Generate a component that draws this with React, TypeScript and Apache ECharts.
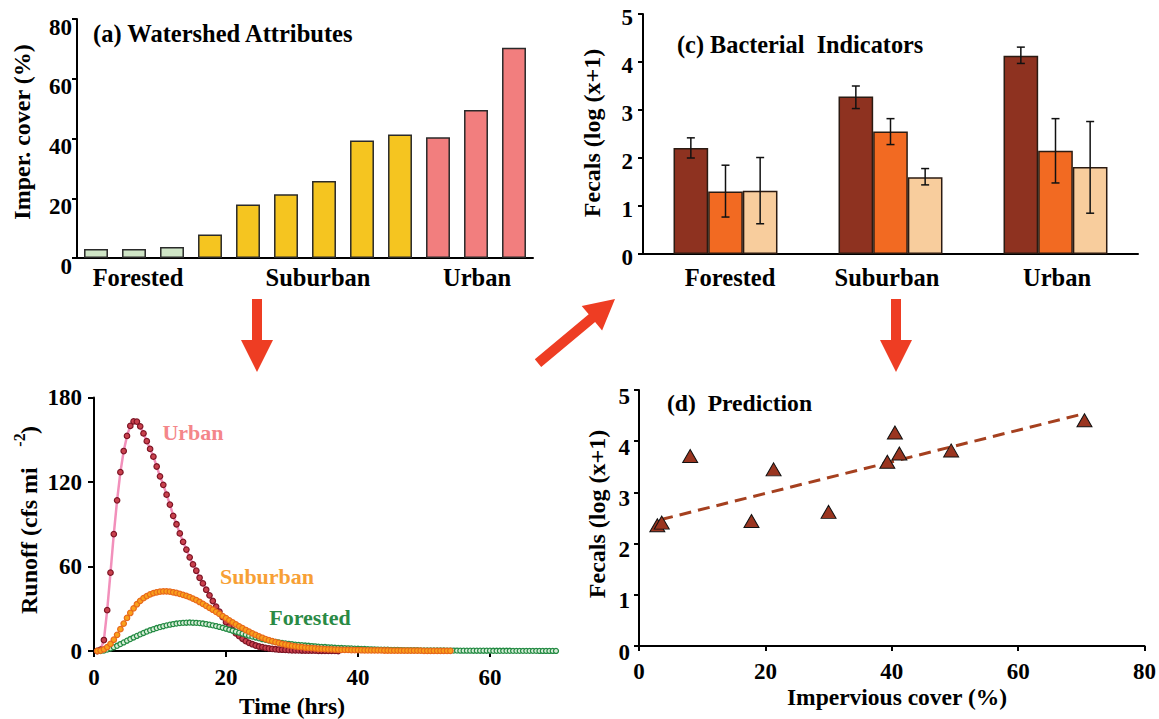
import React, { useEffect, useRef } from "react";
import * as echarts from "echarts";

const SERIF = "'Liberation Serif', 'Times New Roman', Times, serif";

// ---------- (a) Watershed attributes ----------
const WATERSHED_IDS = ["F1", "F2", "F3", "S1", "S2", "S3", "S4", "S5", "S6", "U1", "U2", "U3"];
const WATERSHED_CLASS = ["Forested", "Forested", "Forested", "Suburban", "Suburban", "Suburban", "Suburban", "Suburban", "Suburban", "Urban", "Urban", "Urban"];
const IMPERVIOUS_COVER = [3.0, 3.0, 3.7, 7.9, 17.9, 21.3, 25.8, 39.3, 41.3, 40.4, 49.5, 70.4];
const LAND_USE = ["Forested", "Suburban", "Urban"];

// ---------- (c) Bacterial indicators ----------
const INDICATOR_NAMES = ["Indicator 1", "Indicator 2", "Indicator 3"];
const IND1_MEAN = [2.21, 3.28, 4.13];
const IND1_LOW = [2.0, 3.03, 3.97];
const IND1_HIGH = [2.42, 3.5, 4.31];
const IND2_MEAN = [1.3, 2.55, 2.15];
const IND2_LOW = [0.77, 2.28, 1.48];
const IND2_HIGH = [1.85, 2.82, 2.82];
const IND3_MEAN = [1.32, 1.6, 1.81];
const IND3_LOW = [0.63, 1.44, 0.85];
const IND3_HIGH = [2.01, 1.78, 2.76];

// ---------- (b) Runoff hydrographs (0.5 h sampling) ----------
const HYDRO_STEP_HRS = 0.5;
const URBAN_START_HRS = 0.5;
const SUBURBAN_START_HRS = 0.5;
const FORESTED_START_HRS = 1.0;
const URBAN_RUNOFF = [
  0, 1, 7.8, 29, 55.6, 83, 107, 127, 142, 152.7, 159.8, 163, 162.8, 159.5, 154.5, 149, 143.5, 138, 131, 124,
  118, 111, 104, 96, 90, 83.5, 77.5, 72, 66.5, 61.5, 57, 52, 48, 43.5, 39.5, 35.5, 31.5, 28, 24, 20.5,
  17.5, 15, 12.5, 10.5, 8.7, 7, 5.8, 4.8, 3.9, 3.2, 2.7, 2.2, 1.8, 1.5, 1.25, 1.05, 0.9, 0.75, 0.6, 0.5,
  0.45, 0.4, 0.35, 0.3, 0.25, 0.2, 0.2, 0.15, 0.15, 0.1, 0.1, 0.05, 0.05, 0,
];
const SUBURBAN_RUNOFF = [
  0, 0.3, 1.2, 2.8, 5, 8, 11.5, 15.5, 19.5, 23.5, 27, 30.3, 33.2, 35.6, 37.5, 39, 40.2, 41.1, 41.7, 42.1,
  42.3, 42.3, 42.1, 41.7, 41.2, 40.6, 39.9, 39.1, 38.2, 37.2, 36.1, 34.8, 33.5, 32.1, 30.7, 29.3, 27.8, 26.3, 24.8, 23.3,
  21.8, 20.3, 18.9, 17.5, 16.2, 14.9, 13.7, 12.5, 11.4, 10.4, 9.4, 8.5, 7.7, 7.0, 6.3, 5.7, 5.1, 4.6, 4.1, 3.7,
  3.3, 3.0, 2.7, 2.4, 2.2, 2.0, 1.8, 1.6, 1.45, 1.3, 1.2, 1.1, 1.0, 0.9, 0.85, 0.8, 0.75, 0.7, 0.65, 0.6,
  0.55, 0.5, 0.5, 0.45, 0.45, 0.4, 0.4, 0.35, 0.35, 0.3, 0.3, 0.3, 0.25, 0.25, 0.25, 0.2, 0.2, 0.2, 0.2, 0.15,
  0.15, 0.15, 0.15, 0.1, 0.1, 0.1, 0.1, 0.1,
];
const FORESTED_RUNOFF = [
  0, 0.3, 1.0, 1.8, 2.7, 3.7, 4.9, 6.1, 7.3, 8.5, 9.6, 10.7, 11.8, 12.8, 13.8, 14.7, 15.5, 16.3, 17.0, 17.6,
  18.2, 18.7, 19.1, 19.5, 19.8, 20.0, 20.1, 20.2, 20.1, 20.0, 19.8, 19.5, 19.1, 18.7, 18.2, 17.7, 17.1, 16.5, 15.8, 15.1,
  14.4, 13.7, 13.0, 12.3, 11.6, 10.9, 10.2, 9.6, 9.0, 8.4, 7.9, 7.4, 6.9, 6.5, 6.1, 5.7, 5.4, 5.1, 4.8, 4.5,
  4.3, 4.1, 3.9, 3.7, 3.5, 3.3, 3.1, 2.9, 2.8, 2.6, 2.5, 2.3, 2.2, 2.1, 2.0, 1.9, 1.8, 1.7, 1.6, 1.5,
  1.4, 1.3, 1.2, 1.1, 1.0, 0.95, 0.9, 0.85, 0.8, 0.75, 0.7, 0.65, 0.6, 0.6, 0.55, 0.5, 0.5, 0.45, 0.45, 0.4,
  0.4, 0.4, 0.35, 0.35, 0.35, 0.3, 0.3, 0.3, 0.3, 0.25, 0.25, 0.25, 0.25, 0.2, 0.2, 0.2, 0.2, 0.2, 0.2, 0.15,
  0.15, 0.15, 0.15, 0.15, 0.15, 0.1, 0.1, 0.1, 0.1, 0.1, 0.1, 0.1, 0.1, 0.05, 0.05, 0.05, 0.05, 0.05, 0.05,
];

// ---------- (d) Prediction ----------
const PRED_IMPERVIOUS = [2.9, 3.6, 8.1, 17.8, 21.3, 30.0, 39.3, 40.5, 41.2, 49.4, 70.5];
const PRED_FECALS = [2.36, 2.41, 3.71, 2.44, 3.45, 2.62, 3.6, 4.17, 3.76, 3.82, 4.41];
const TREND_X = [3.5, 70.5];
const TREND_Y = [2.47, 4.54];

const CLASS_COLORS: Record<string, string> = {
  Forested: "#cfe5c6",
  Suburban: "#f5c520",
  Urban: "#f27e7e",
};
const IND_COLORS = ["#8e3220", "#f26a22", "#f8cd9d"];
const ARROW_COLOR = "#ee3d23";
const BAR_GAP_FRAC = 0.37;

const toSeries = (start: number, vals: number[]) =>
  vals.map((v, i) => [start + i * HYDRO_STEP_HRS, v]);

const font = (size: number) => `bold ${size}px ${SERIF}`;

const txt = (x: number, y: number, text: string, size: number, opts: any = {}) => ({
  type: "text",
  x,
  y,
  rotation: opts.rotation || 0,
  style: {
    text,
    font: font(size),
    fill: opts.fill || "#000",
    textAlign: opts.align || "left",
    textVerticalAlign: "middle",
    align: opts.align || "left",
    verticalAlign: "middle",
  },
  z: 100,
});

const axisLine = { show: true, lineStyle: { color: "#000", width: 2 } };
const labelStyle = (extra: any = {}) => ({
  color: "#000",
  fontFamily: SERIF,
  fontWeight: 700,
  fontStyle: "normal",
  fontSize: 23,
  ...extra,
});

export default function App() {
  const ref = useRef<HTMLDivElement>(null);

  useEffect(() => {
    if (!ref.current) return;
    const chart = echarts.init(ref.current, undefined, { renderer: "svg" });

    const means = [IND1_MEAN, IND2_MEAN, IND3_MEAN];
    const lows = [IND1_LOW, IND2_LOW, IND3_LOW];
    const highs = [IND1_HIGH, IND2_HIGH, IND3_HIGH];
    const errData: number[][] = [];
    for (let s = 0; s < 3; s++) {
      for (let j = 0; j < LAND_USE.length; j++) {
        errData.push([j, lows[s][j], highs[s][j], s]);
      }
    }

    const option: any = {
      animation: false,
      backgroundColor: "#fff",
      textStyle: { fontFamily: SERIF, fontWeight: "bold" },
      grid: [
        { left: 77, top: 19, width: 456, height: 239 },
        { left: 643, top: 14, width: 495, height: 240 },
        { left: 94, top: 397.5, width: 462, height: 253.5 },
        { left: 639, top: 390, width: 510, height: 256 },
      ],
      xAxis: [
        {
          gridIndex: 0,
          type: "category",
          data: WATERSHED_IDS,
          axisLine,
          axisTick: { show: false },
          axisLabel: { show: false },
        },
        {
          gridIndex: 1,
          type: "category",
          data: LAND_USE,
          axisLine,
          axisTick: { show: false },
          axisLabel: { show: false },
        },
        {
          gridIndex: 2,
          type: "value",
          min: 0,
          max: 70,
          interval: 20,
          axisLine,
          axisTick: { show: true, length: 6, lineStyle: { color: "#000", width: 2 } },
          splitLine: { show: false },
          axisLabel: labelStyle({ margin: 15, showMaxLabel: false }),
        },
        {
          gridIndex: 3,
          type: "value",
          min: 0,
          max: 80,
          interval: 20,
          axisLine,
          axisTick: { show: true, length: 5, lineStyle: { color: "#000", width: 2 } },
          splitLine: { show: false },
          axisLabel: labelStyle({ margin: 14 }),
        },
      ],
      yAxis: [
        {
          gridIndex: 0,
          type: "value",
          min: 0,
          max: 80,
          interval: 20,
          axisLine,
          axisTick: { show: true, length: 5, lineStyle: { color: "#000", width: 2 } },
          splitLine: { show: false },
          axisLabel: labelStyle({ margin: 5, verticalAlign: "top", lineHeight: 16 }),
        },
        {
          gridIndex: 1,
          type: "value",
          min: 0,
          max: 5,
          interval: 1,
          axisLine,
          axisTick: { show: true, length: 5, lineStyle: { color: "#000", width: 2 } },
          splitLine: { show: false },
          axisLabel: labelStyle({ margin: 10, verticalAlign: "top", lineHeight: 7 }),
        },
        {
          gridIndex: 2,
          type: "value",
          min: 0,
          max: 180,
          interval: 60,
          axisLine,
          axisTick: { show: true, length: 6, lineStyle: { color: "#000", width: 2 } },
          splitLine: { show: false },
          axisLabel: labelStyle({ margin: 12 }),
        },
        {
          gridIndex: 3,
          type: "value",
          min: 0,
          max: 5,
          interval: 1,
          axisLine,
          axisTick: { show: true, length: 5, lineStyle: { color: "#000", width: 2 } },
          splitLine: { show: false },
          axisLabel: labelStyle({ margin: 9, verticalAlign: "top", lineHeight: 12 }),
        },
      ],
      series: [
        // (a)
        {
          name: "Impervious cover",
          type: "bar",
          xAxisIndex: 0,
          yAxisIndex: 0,
          barWidth: "63%",
          data: IMPERVIOUS_COVER.map((v, i) => ({
            value: v,
            itemStyle: { color: CLASS_COLORS[WATERSHED_CLASS[i]] },
          })),
          itemStyle: { borderColor: "#2a2a2a", borderWidth: 1.5 },
        },
        // (c)
        ...INDICATOR_NAMES.map((name, s) => ({
          name,
          type: "bar",
          xAxisIndex: 1,
          yAxisIndex: 1,
          barGap: "0%",
          barCategoryGap: `${BAR_GAP_FRAC * 100}%`,
          data: means[s],
          itemStyle: { color: IND_COLORS[s], borderColor: "#2b1b12", borderWidth: 1.5 },
        })),
        {
          name: "error",
          type: "custom",
          xAxisIndex: 1,
          yAxisIndex: 1,
          z: 10,
          data: errData,
          encode: { x: 0, y: [1, 2] },
          renderItem: (params: any, api: any) => {
            const j = api.value(0);
            const lo = api.value(1);
            const hi = api.value(2);
            const s = api.value(3);
            const band = api.size([1, 0])[0];
            const bw = (band * (1 - BAR_GAP_FRAC)) / 3;
            const x = api.coord([j, 0])[0] + (s - 1) * bw;
            const yh = api.coord([j, hi])[1];
            const yl = api.coord([j, lo])[1];
            const st = { stroke: "#111", lineWidth: 1.5 };
            return {
              type: "group",
              children: [
                { type: "line", shape: { x1: x, y1: yh, x2: x, y2: yl }, style: st },
                { type: "line", shape: { x1: x - 4, y1: yh, x2: x + 4, y2: yh }, style: st },
                { type: "line", shape: { x1: x - 4, y1: yl, x2: x + 4, y2: yl }, style: st },
              ],
            };
          },
        },
        // (b)
        {
          name: "Urban",
          type: "line",
          xAxisIndex: 2,
          yAxisIndex: 2,
          data: toSeries(URBAN_START_HRS, URBAN_RUNOFF),
          symbol: "circle",
          symbolSize: 5.5,
          lineStyle: { color: "#f290bb", width: 2.5 },
          itemStyle: { color: "#c9404d", borderColor: "#7d1424", borderWidth: 1.2, opacity: 1 },
          z: 2,
        },
        {
          name: "Forested",
          type: "line",
          xAxisIndex: 2,
          yAxisIndex: 2,
          data: toSeries(FORESTED_START_HRS, FORESTED_RUNOFF),
          symbol: "circle",
          symbolSize: 5,
          lineStyle: { color: "#5aa86c", width: 1 },
          itemStyle: { color: "#d8eed8", borderColor: "#238a43", borderWidth: 1.3, opacity: 1 },
          z: 3,
        },
        {
          name: "Suburban",
          type: "line",
          xAxisIndex: 2,
          yAxisIndex: 2,
          data: toSeries(SUBURBAN_START_HRS, SUBURBAN_RUNOFF),
          symbol: "circle",
          symbolSize: 5.5,
          lineStyle: { color: "#f7b040", width: 2 },
          itemStyle: { color: "#f9a11b", borderColor: "#e8681a", borderWidth: 1.2, opacity: 1 },
          z: 4,
        },
        // (d)
        {
          name: "Trend",
          type: "line",
          xAxisIndex: 3,
          yAxisIndex: 3,
          data: TREND_X.map((x, i) => [x, TREND_Y[i]]),
          symbol: "none",
          lineStyle: { color: "#a5401f", width: 3, type: [12, 7] },
          z: 2,
        },
        {
          name: "Observed",
          type: "scatter",
          xAxisIndex: 3,
          yAxisIndex: 3,
          data: PRED_IMPERVIOUS.map((x, i) => [x, PRED_FECALS[i]]),
          symbol: "triangle",
          symbolSize: [15, 13],
          itemStyle: { color: "#9a3520", borderColor: "#111", borderWidth: 1, opacity: 1 },
          z: 3,
        },
      ],
      graphic: [
        // titles
        txt(93, 33, "(a) Watershed Attributes", 24.5),
        txt(677, 44, "(c) Bacterial  Indicators", 24.3),
        txt(667, 403, "(d)  Prediction", 23.6),
        // (a) group labels
        txt(138, 277, LAND_USE[0], 24.5, { align: "center" }),
        txt(318, 277, LAND_USE[1], 24.5, { align: "center" }),
        txt(477, 277, LAND_USE[2], 24.5, { align: "center" }),
        // (c) category labels
        txt(730, 277, LAND_USE[0], 24.5, { align: "center" }),
        txt(887, 277, LAND_USE[1], 24.5, { align: "center" }),
        txt(1057, 277, LAND_USE[2], 24.5, { align: "center" }),
        // axis names
        txt(22, 132, "Imper. cover (%)", 24, { align: "center", rotation: Math.PI / 2 }),
        txt(592, 133, "Fecals (log (x+1)", 24, { align: "center", rotation: Math.PI / 2 }),
        txt(597, 514, "Fecals (log (x+1)", 24, { align: "center", rotation: Math.PI / 2 }),
        txt(29, 614, "Runoff (cfs mi", 24, { align: "left", rotation: Math.PI / 2 }),
        txt(19, 440, "-2", 16, { align: "center", rotation: Math.PI / 2 }),
        txt(29, 430, ")", 24, { align: "center", rotation: Math.PI / 2 }),
        txt(292, 706, "Time (hrs)", 23.5, { align: "center" }),
        txt(897, 697, "Impervious cover (%)", 23.5, { align: "center" }),
        // (b) curve labels
        txt(193, 432, "Urban", 22, { align: "center", fill: "#f4868a" }),
        txt(267, 576, "Suburban", 22, { align: "center", fill: "#f7a035" }),
        txt(310, 617, "Forested", 22, { align: "center", fill: "#2a8a45" }),
        // arrows
        {
          type: "polygon",
          shape: {
            points: [[252, 299], [262, 299], [262, 340], [273, 340], [257, 372], [241, 340], [252, 340]],
          },
          style: { fill: ARROW_COLOR },
        },
        {
          type: "polygon",
          shape: {
            points: [[891, 299], [901, 299], [901, 340], [912, 340], [896, 372], [880, 340], [891, 340]],
          },
          style: { fill: ARROW_COLOR },
        },
        {
          type: "polygon",
          shape: {
            points: [
              [534.8, 359.2], [588.7, 314.3], [581.7, 305.9], [615, 299],
              [602.1, 330.5], [595.1, 322.1], [541.2, 366.9],
            ],
          },
          style: { fill: ARROW_COLOR },
        },
      ],
    };

    chart.setOption(option);
    return () => chart.dispose();
  }, []);

  return (
    <div
      ref={ref}
      style={{ position: "absolute", left: 0, top: 0, width: 1159, height: 719, background: "#fff" }}
    />
  );
}
